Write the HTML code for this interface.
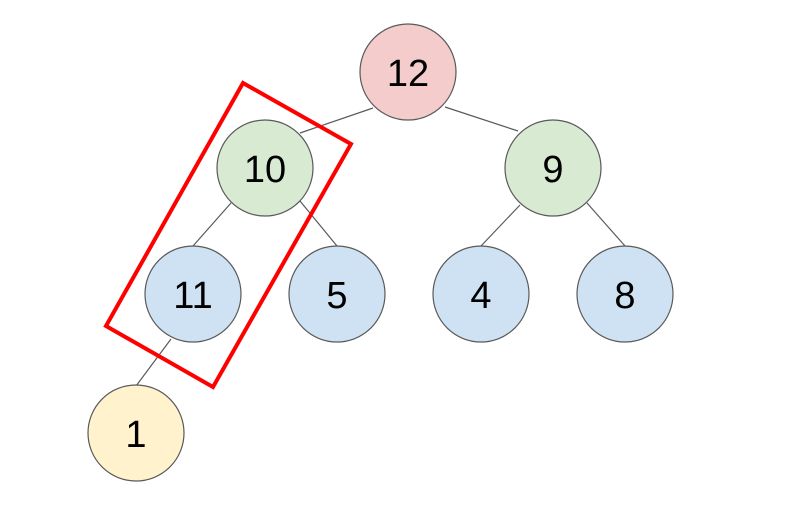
<!DOCTYPE html>
<html><head><style>html,body{margin:0;padding:0;background:#fff}svg{display:block}</style></head>
<body>
<svg width="805" height="530" viewBox="0 0 805 530" xmlns="http://www.w3.org/2000/svg">
<g stroke="#595959" stroke-width="1.2">
<line x1="373" y1="108" x2="300" y2="133"/>
<line x1="445" y1="107" x2="518" y2="131"/>
<line x1="231" y1="203" x2="193" y2="246"/>
<line x1="300" y1="201" x2="337" y2="246"/>
<line x1="520" y1="205" x2="481" y2="246"/>
<line x1="587" y1="203" x2="625" y2="246"/>
<line x1="171" y1="339" x2="136" y2="386"/>
</g>
<g stroke="#595959" stroke-width="1.2">
<circle cx="408" cy="72" r="48" fill="#f4cccc"/>
<circle cx="265" cy="168" r="48" fill="#d9ead3"/>
<circle cx="553" cy="168" r="48" fill="#d9ead3"/>
<circle cx="193" cy="294" r="48" fill="#cfe2f3"/>
<circle cx="337" cy="294" r="48" fill="#cfe2f3"/>
<circle cx="481" cy="294" r="48" fill="#cfe2f3"/>
<circle cx="625" cy="294" r="48" fill="#cfe2f3"/>
<circle cx="136" cy="433" r="48" fill="#fff2cc"/>
</g>
<g font-family="Liberation Sans, sans-serif" font-size="38" text-anchor="middle" fill="#000">
<text x="408" y="86">12</text>
<text x="265" y="182">10</text>
<text x="553" y="182">9</text>
<text x="193" y="308">11</text>
<text x="337" y="308">5</text>
<text x="481" y="308">4</text>
<text x="625" y="308">8</text>
<text x="136" y="447">1</text>
</g>
<polygon points="243,83 351,144 213,387 106,326" fill="none" stroke="#ff0000" stroke-width="4"/>
</svg>
</body></html>
